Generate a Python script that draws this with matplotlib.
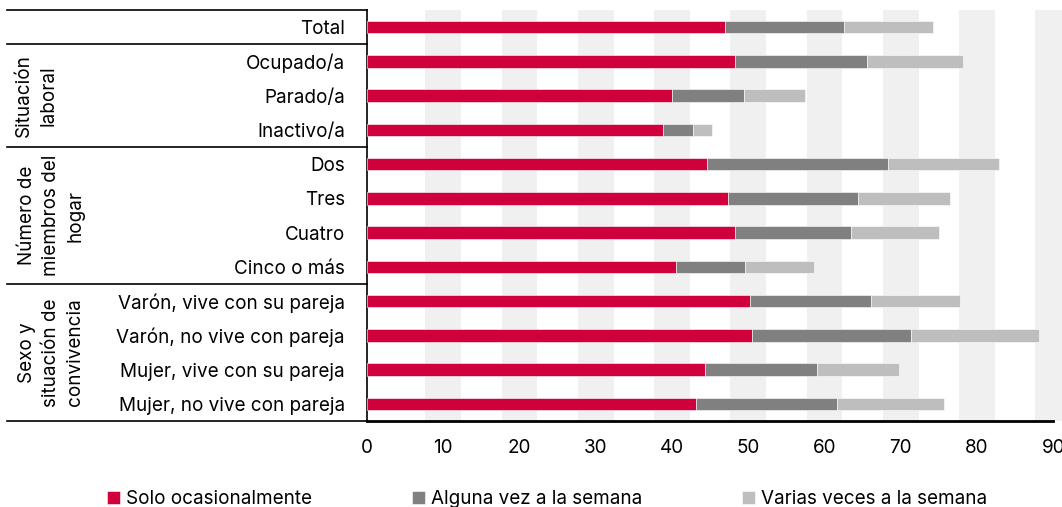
import matplotlib.pyplot as plt
import matplotlib.transforms as mtransforms
import numpy as np

plt.rcParams['font.family'] = ['Inter', 'DejaVu Sans']

# categories (top to bottom)
categorias = ['Total',
              'Ocupado/a', 'Parado/a', 'Inactivo/a',
              'Dos', 'Tres', 'Cuatro', 'Cinco o más',
              'Varón, vive con su pareja', 'Varón, no vive con pareja',
              'Mujer, vive con su pareja', 'Mujer, no vive con pareja']

# series values (%)
solo_ocasional = [47.0, 48.3, 40.0, 38.8, 44.6, 47.4, 48.2, 40.5, 50.2, 50.5, 44.3, 43.1]
alguna_vez = [15.6, 17.3, 9.4, 4.0, 23.7, 17.0, 15.3, 9.1, 15.9, 20.9, 14.7, 18.6]
varias_veces = [11.6, 12.6, 8.1, 2.4, 14.6, 12.1, 11.5, 9.0, 11.7, 16.7, 10.8, 14.0]

series_names = ['Solo ocasionalmente', 'Alguna vez a la semana', 'Varias veces a la semana']
colors = ['#D0003C', '#808080', '#BEBEBE']

# groups: (label, first row, last row)
grupos = [('Situación\nlaboral', 1, 3),
          ('Número de\nmiembros del\nhogar', 4, 7),
          ('Sexo y\nsituación de\nconvivencia', 8, 11)]

xticks = [0, 10, 20, 30, 40, 50, 60, 70, 80, 90]

FS = 13.6

fig = plt.figure(figsize=(10.62, 5.07), dpi=100)
W, H = 1062, 507
ax = fig.add_axes([367 / W, 86 / H, (W - 367) / W, 411 / H])

y = np.arange(len(categorias))
left = np.zeros(len(categorias))
for vals, name, col in zip([solo_ocasional, alguna_vez, varias_veces], series_names, colors):
    ax.barh(y, vals, left=left, height=0.36, color=col, label=name,
            edgecolor='white', linewidth=0.4, zorder=3)
    left = left + np.array(vals)

# alternating background bands centred on the ticks
for t in xticks[1:]:
    ax.axvspan(t - 2.35, t + 2.35, color='#F0F0F0', zorder=0, lw=0)

ax.set_xlim(0, (W - 367) / 7.625)
ax.set_ylim(11.5, -0.5)
ax.set_xticks(xticks)
ax.set_yticks(y)
ax.set_yticklabels(categorias)
ax.tick_params(axis='y', length=0, pad=16, labelsize=FS)
ax.tick_params(axis='x', length=0, pad=13, labelsize=FS)

for s in ['top', 'right']:
    ax.spines[s].set_visible(False)
ax.spines['bottom'].set_bounds(0, 90)
ax.spines['bottom'].set_linewidth(2)
ax.spines['left'].set_linewidth(1.2)

# table lines on the left
trans = mtransforms.blended_transform_factory(fig.transFigure, ax.transData)
for yl in [-0.5, 0.5, 3.5, 7.5, 11.5]:
    ax.plot([7 / W, 367 / W], [yl, yl], color='black', lw=1.2,
            transform=trans, clip_on=False)

for label, a, b in grupos:
    nlines = label.count('\n') + 1
    xc = (21 + 15 * (nlines - 1)) / W
    ax.text(xc, (a + b) / 2, label, transform=trans, rotation=90,
            ha='center', va='center', multialignment='center',
            fontsize=FS, linespacing=1.45)

fig.legend(loc='lower left', bbox_to_anchor=(90 / W, -0.035), ncol=3,
           frameon=False, fontsize=FS, handlelength=0.7, handleheight=0.7,
           handletextpad=0.3, columnspacing=5.3)

fig.savefig('out.png', dpi=100)
